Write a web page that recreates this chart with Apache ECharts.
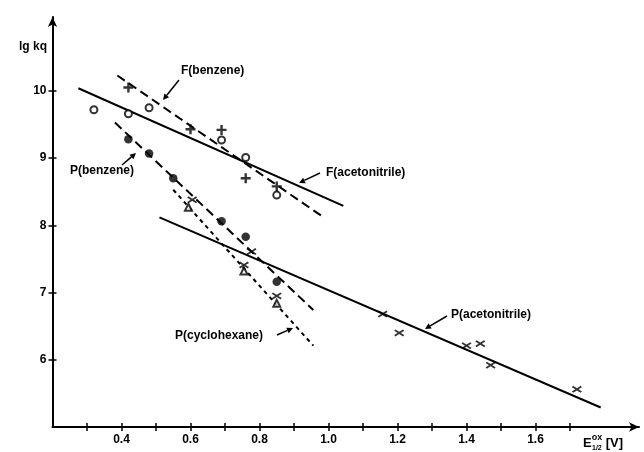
<!DOCTYPE html>
<html>
<head>
<meta charset="utf-8">
<script src="https://cdn.jsdelivr.net/npm/echarts@6/dist/echarts.min.js"></script>
<style>html,body{margin:0;padding:0;background:#fff}#c{width:644px;height:452px}</style>
</head>
<body>
<div id="c"></div>
<script>
// ---- data (x = E_1/2^ox [V], y = lg kq) ----
const xTicks = [0.3,0.4,0.5,0.6,0.7,0.8,0.9,1.0,1.1,1.2,1.3,1.4,1.5,1.6,1.7];
const xLabels = [0.4,0.6,0.8,1.0,1.2,1.4,1.6];
const yTicks = [6,7,8,9,10];

const openCircles = [[0.32,9.72],[0.42,9.66],[0.48,9.75],[0.69,9.27],[0.76,9.01],[0.85,8.45]];
const plusPts = [[0.42,10.05],[0.60,9.43],[0.69,9.42],[0.76,8.70],[0.85,8.58]];
const filledCircles = [[0.42,9.28],[0.48,9.07],[0.55,8.70],[0.69,8.06],[0.76,7.83],[0.85,7.16]];
const trianglePts = [[0.594,8.27],[0.755,7.32],[0.85,6.84]];
const crossPts = [[0.605,8.38],[0.755,7.41],[0.85,6.95],[0.777,7.61],[1.157,6.68],[1.205,6.40],[1.40,6.21],[1.44,6.24],[1.47,5.92],[1.72,5.56]];

const lineFBenzene = [[0.388,10.23],[0.983,8.13]];
const lineFAcetonitrile = [[0.275,10.04],[1.043,8.29]];
const linePBenzene = [[0.381,9.53],[0.956,6.74]];
const linePCyclohexane = [[0.55,8.53],[0.956,6.21]];
const linePAcetonitrile = [[0.51,8.12],[1.789,5.29]];

const seriesLabels = ['F(benzene)','F(acetonitrile)','P(benzene)','P(cyclohexane)','P(acetonitrile)'];

// ---- chart ----
const chart = echarts.init(document.getElementById('c'), null, {renderer:'canvas'});
const FONT = '"Liberation Sans", Arial, sans-serif';
const plusPath = 'path://M3.8,0H6.2V3.8H10V6.2H6.2V10H3.8V6.2H0V3.8H3.8Z';
const crossPath = 'path://M1.2,0L5,2.4L8.8,0L10,1.4L6.6,3.5L10,5.6L8.8,7L5,4.6L1.2,7L0,5.6L3.4,3.5L0,1.4Z';

function lineSeries(data, type, dash){
  return {type:'line', data:data, symbol:'none', silent:true, z:3,
    lineStyle:{color:'#000', width:2, type: type==='dashed'? dash : 'solid'}};
}
function scatter(data, symbol, size, style){
  return {type:'scatter', data:data, symbol:symbol, symbolSize:size, z:5, itemStyle:style};
}

const option = {
  backgroundColor:'#fff',
  animation:false,
  grid:{left:52.5, right:5, top:17, bottom:25},
  xAxis:[{
    type:'value', min:0.2, max:1.9,
    axisLine:{show:true, lineStyle:{color:'#000', width:2}, symbol:['none','arrow'], symbolSize:[7,10]},
    axisTick:{show:true, inside:false, length:4, lineStyle:{color:'#000', width:1.5}, customValues:xTicks},
    axisLabel:{show:true, customValues:xLabels, color:'#000', fontWeight:'bold', fontSize:12, fontFamily:FONT, margin:7,
      formatter:v=>v.toFixed(1)},
    splitLine:{show:false}
  },{
    type:'value', min:0.2, max:1.9, position:'bottom', gridIndex:0,
    axisLine:{show:false},
    axisTick:{show:true, inside:true, length:4, lineStyle:{color:'#000', width:1.5}, customValues:xTicks},
    axisLabel:{show:false}, splitLine:{show:false}
  }],
  yAxis:[{
    type:'value', min:5, max:11.1,
    axisLine:{show:true, lineStyle:{color:'#000', width:2}, symbol:['none','arrow'], symbolSize:[7,10]},
    axisTick:{show:true, inside:false, length:4, lineStyle:{color:'#000', width:1.5}, customValues:yTicks},
    axisLabel:{show:true, customValues:yTicks, color:'#000', fontWeight:'bold', fontSize:12, fontFamily:FONT, margin:6},
    splitLine:{show:false}
  },{
    type:'value', min:5, max:11.1, position:'left', gridIndex:0,
    axisLine:{show:false},
    axisTick:{show:true, inside:true, length:4, lineStyle:{color:'#000', width:1.5}, customValues:yTicks},
    axisLabel:{show:false}, splitLine:{show:false}
  }],
  series:[
    lineSeries(lineFBenzene,'dashed',[9,5]),
    lineSeries(lineFAcetonitrile,'solid'),
    lineSeries(linePBenzene,'dashed',[9,5]),
    lineSeries(linePCyclohexane,'dashed',[4,4]),
    lineSeries(linePAcetonitrile,'solid'),
    scatter(openCircles,'circle',7,{color:'#fff', borderColor:'#000', borderWidth:2}),
    scatter(plusPts,plusPath,10,{color:'#000'}),
    scatter(filledCircles,'circle',8.5,{color:'#000'}),
    scatter(trianglePts,'triangle',7,{color:'#fff', borderColor:'#000', borderWidth:2}),
    scatter(crossPts,crossPath,[10,7],{color:'#000'})
  ]
};
chart.setOption(option);

// ---- annotations (labels + arrows) ----
const labelPos = [[181,72],[326,174],[70,172],[175,337],[451,316]];
const arrows = [
  [[179,80],[163,100]],
  [[320,173],[299,183]],
  [[122,165],[136,153]],
  [[277,335],[293,328]],
  [[447,316],[425,329]]
];
const g = [];
seriesLabels.forEach((t,i)=>{
  g.push({type:'text', left:labelPos[i][0], top:labelPos[i][1]-7, z:10,
    style:{text:t, fill:'#000', font:'bold 12px '+FONT}});
});
arrows.forEach(a=>{
  const [p,q] = a;
  const dx=q[0]-p[0], dy=q[1]-p[1], L=Math.hypot(dx,dy), ux=dx/L, uy=dy/L;
  const hl=6, hw=3;
  const bx=q[0]-ux*hl, by=q[1]-uy*hl;
  g.push({type:'line', z:10, shape:{x1:p[0],y1:p[1],x2:bx,y2:by}, style:{stroke:'#000', lineWidth:1.5}});
  g.push({type:'polygon', z:10, shape:{points:[[q[0],q[1]],[bx-uy*hw,by+ux*hw],[bx+uy*hw,by-ux*hw]]}, style:{fill:'#000'}});
});
g.push({type:'text', right:644-47, top:41, z:10, style:{text:'lg kq', fill:'#000', font:'bold 12px '+FONT, textAlign:'right'}});
g.push({type:'text', left:583, top:433, z:10, style:{
  text:'{e|E}{s|ox}{e| [V]}', fill:'#000',
  rich:{e:{font:'bold 13px '+FONT, fill:'#000', verticalAlign:'bottom'}, s:{font:'bold 9px '+FONT, fill:'#000', padding:[0,0,8,0]}}
}});
g.push({type:'text', left:592, top:445, z:10, style:{text:'1/2', fill:'#000', font:'bold 7px '+FONT}});
chart.setOption({graphic:g});
</script>
</body>
</html>
